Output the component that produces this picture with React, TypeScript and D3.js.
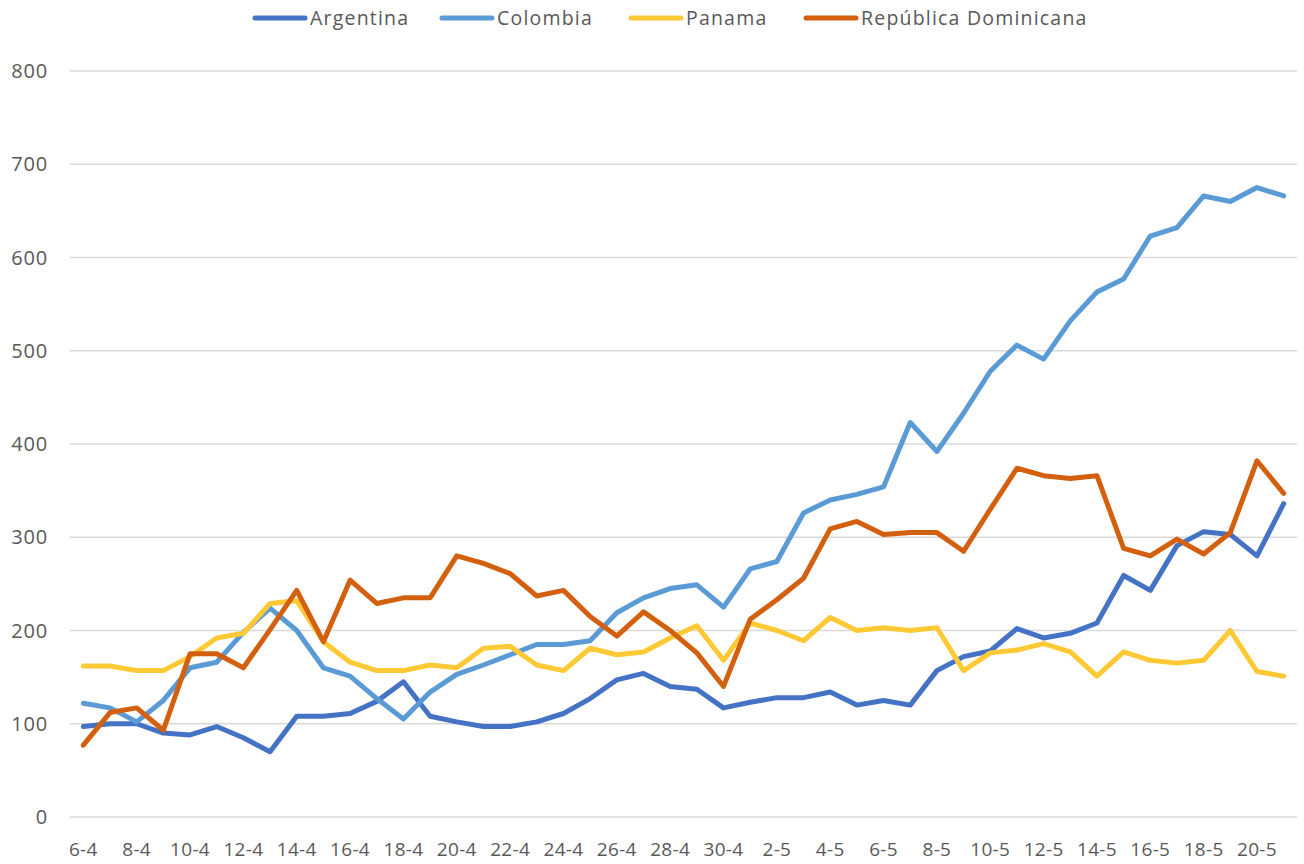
import React, { useEffect, useRef } from 'react';
import * as d3 from 'd3';

const dates = [
  '6-4', '7-4', '8-4', '9-4', '10-4', '11-4', '12-4', '13-4', '14-4', '15-4',
  '16-4', '17-4', '18-4', '19-4', '20-4', '21-4', '22-4', '23-4', '24-4', '25-4',
  '26-4', '27-4', '28-4', '29-4', '30-4', '1-5', '2-5', '3-5', '4-5', '5-5',
  '6-5', '7-5', '8-5', '9-5', '10-5', '11-5', '12-5', '13-5', '14-5', '15-5',
  '16-5', '17-5', '18-5', '19-5', '20-5', '21-5',
];

const argentina = [
  97, 100, 100, 90, 88, 97, 85, 70, 108, 108,
  111, 124, 145, 108, 102, 97, 97, 102, 111, 127,
  147, 154, 140, 137, 117, 123, 128, 128, 134, 120,
  125, 120, 157, 172, 178, 202, 192, 197, 208, 259,
  243, 291, 306, 303, 280, 336,
];

const colombia = [
  122, 117, 102, 125, 160, 166, 198, 224, 200, 160,
  151, 127, 105, 134, 153, 163, 174, 185, 185, 189,
  219, 235, 245, 249, 225, 266, 274, 326, 340, 346,
  354, 423, 392, 433, 478, 506, 491, 532, 563, 577,
  623, 632, 666, 660, 675, 666,
];

const panama = [
  162, 162, 157, 157, 172, 192, 197, 229, 232, 188,
  166, 157, 157, 163, 160, 181, 183, 163, 157, 181,
  174, 177, 192, 205, 168, 208, 200, 189, 214, 200,
  203, 200, 203, 157, 176, 179, 186, 177, 151, 177,
  168, 165, 168, 200, 156, 151,
];

const republicaDominicana = [
  77, 112, 117, 93, 175, 175, 160, 201, 243, 188,
  254, 229, 235, 235, 280, 272, 261, 237, 243, 215,
  194, 220, 200, 176, 140, 212, 233, 256, 309, 317,
  303, 305, 305, 285, 330, 374, 366, 363, 366, 288,
  280, 298, 282, 305, 382, 347,
];

const seriesNames = ['Argentina', 'Colombia', 'Panama', 'República Dominicana'];
const seriesValues = [argentina, colombia, panama, republicaDominicana];
const seriesColors = ['#4472C4', '#5B9BD5', '#FFC935', '#D2600F'];
const yTicks = [0, 100, 200, 300, 400, 500, 600, 700, 800];

const W = 1304;
const H = 864;

export default function App() {
  const svgRef = useRef<SVGSVGElement>(null);

  useEffect(() => {
    if (!svgRef.current) return;
    const svg = d3.select(svgRef.current);
    svg.selectAll('*').remove();

    const plot = { left: 70, right: 1297, top: 71, bottom: 817 };

    const x = d3.scaleBand().domain(dates).range([plot.left, plot.right]);
    const y = d3.scaleLinear().domain([0, 800]).range([plot.bottom, plot.top]);
    const cx = (d: string) => (x(d) || 0) + x.bandwidth() / 2;

    const font = "'Open Sans', sans-serif";

    // gridlines
    svg.append('g')
      .selectAll('line')
      .data(yTicks)
      .enter()
      .append('line')
      .attr('x1', plot.left)
      .attr('x2', plot.right)
      .attr('y1', d => y(d))
      .attr('y2', d => y(d))
      .attr('stroke', '#D9D9D9')
      .attr('stroke-width', 1.4);

    // y labels
    svg.append('g')
      .selectAll('text')
      .data(yTicks)
      .enter()
      .append('text')
      .attr('x', 48)
      .attr('y', d => y(d))
      .attr('dy', '0.35em')
      .attr('text-anchor', 'end')
      .style('font-family', font)
      .style('font-size', '20px')
      .style('letter-spacing', '0.8px')
      .style('fill', '#595959')
      .text(d => d);

    // x labels, every second day
    svg.append('g')
      .selectAll('text')
      .data(dates.filter((_, i) => i % 2 === 0))
      .enter()
      .append('text')
      .attr('x', d => cx(d))
      .attr('y', 856)
      .attr('text-anchor', 'middle')
      .style('font-family', font)
      .style('font-size', '19px')
      .style('letter-spacing', '0.3px')
      .style('fill', '#595959')
      .text(d => d);

    // lines
    const line = d3.line<number>()
      .x((_, i) => cx(dates[i]))
      .y(d => y(d));

    seriesValues.forEach((vals, k) => {
      svg.append('path')
        .datum(vals)
        .attr('d', line)
        .attr('fill', 'none')
        .attr('stroke', seriesColors[k])
        .attr('stroke-width', 5)
        .attr('stroke-linejoin', 'round')
        .attr('stroke-linecap', 'round');
    });

    // legend
    const legendX = [255, 442, 631, 806];
    const lg = svg.append('g');
    seriesNames.forEach((name, k) => {
      lg.append('line')
        .attr('x1', legendX[k])
        .attr('x2', legendX[k] + 50)
        .attr('y1', 18)
        .attr('y2', 18)
        .attr('stroke', seriesColors[k])
        .attr('stroke-width', 5)
        .attr('stroke-linecap', 'round');
      lg.append('text')
        .attr('x', legendX[k] + 55)
        .attr('y', 18)
        .attr('dy', '0.35em')
        .style('font-family', font)
        .style('font-size', '19.5px')
        .style('letter-spacing', '1.2px')
        .style('fill', '#595959')
        .text(name);
    });
  }, []);

  return (
    <svg
      ref={svgRef}
      width={W}
      height={H}
      viewBox={`0 0 ${W} ${H}`}
      style={{ position: 'absolute', left: 0, top: 0, background: '#fff' }}
    />
  );
}
